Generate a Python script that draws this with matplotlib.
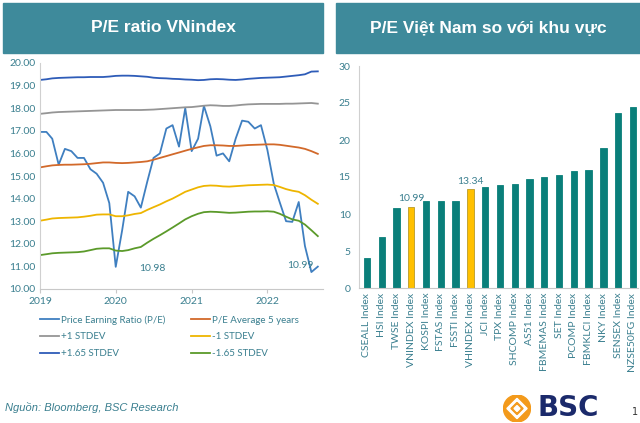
import numpy as np
import pandas as pd
import matplotlib
matplotlib.use("Agg")
import matplotlib.pyplot as plt
from matplotlib.patches import Rectangle, Circle, Polygon

# ---- data: P/E VNindex, monthly Jan 2019 .. Sep 2022 ----
dates = pd.date_range("2019-01-01", periods=45, freq="MS")
pe = [16.95, 16.95, 16.65, 15.5, 16.2, 16.1, 15.8, 15.8, 15.3, 15.1, 14.7, 13.8,
      10.98, 12.6, 14.3, 14.1, 13.6, 14.75, 15.8, 16.0, 17.1, 17.25, 16.3, 18.0,
      16.1, 16.65, 18.1, 17.2, 15.9, 16.0, 15.65, 16.65, 17.45, 17.4, 17.1, 17.25,
      16.15, 14.65, 13.85, 13.0, 12.97, 13.85, 11.9, 10.75, 10.99]
avg5 = [15.38, 15.43, 15.47, 15.49, 15.50, 15.50, 15.51, 15.52, 15.54, 15.57, 15.60, 15.60,
        15.58, 15.57, 15.58, 15.60, 15.62, 15.65, 15.72, 15.80, 15.88, 15.96, 16.04, 16.12,
        16.20, 16.27, 16.33, 16.36, 16.36, 16.35, 16.33, 16.33, 16.35, 16.37, 16.38, 16.39,
        16.40, 16.40, 16.38, 16.34, 16.30, 16.26, 16.20, 16.10, 15.98]
plus1 = [17.75, 17.78, 17.81, 17.83, 17.84, 17.85, 17.86, 17.87, 17.88, 17.89, 17.90, 17.91,
         17.92, 17.92, 17.92, 17.92, 17.92, 17.93, 17.94, 17.96, 17.98, 18.00, 18.02, 18.04,
         18.05, 18.08, 18.11, 18.13, 18.12, 18.10, 18.10, 18.12, 18.15, 18.17, 18.18, 18.19,
         18.19, 18.19, 18.19, 18.20, 18.20, 18.21, 18.22, 18.23, 18.20]
minus1 = [13.02, 13.07, 13.12, 13.14, 13.15, 13.16, 13.17, 13.20, 13.24, 13.29, 13.30, 13.30,
          13.22, 13.22, 13.26, 13.32, 13.36, 13.50, 13.62, 13.74, 13.88, 14.00, 14.15, 14.30,
          14.40, 14.50, 14.56, 14.58, 14.57, 14.54, 14.53, 14.55, 14.57, 14.59, 14.60, 14.61,
          14.62, 14.60, 14.52, 14.42, 14.35, 14.30, 14.15, 13.95, 13.77]
plus165 = [19.25, 19.28, 19.32, 19.34, 19.35, 19.36, 19.37, 19.37, 19.38, 19.38, 19.38, 19.40,
           19.43, 19.44, 19.44, 19.43, 19.41, 19.39, 19.35, 19.33, 19.32, 19.30, 19.29, 19.27,
           19.26, 19.24, 19.25, 19.28, 19.29, 19.28, 19.26, 19.25, 19.27, 19.30, 19.32, 19.34,
           19.35, 19.36, 19.37, 19.40, 19.43, 19.46, 19.50, 19.62, 19.63]
minus165 = [11.50, 11.54, 11.58, 11.60, 11.61, 11.62, 11.63, 11.66, 11.72, 11.78, 11.80, 11.80,
            11.70, 11.68, 11.72, 11.80, 11.86, 12.05, 12.22, 12.38, 12.55, 12.72, 12.90, 13.08,
            13.22, 13.33, 13.40, 13.42, 13.41, 13.39, 13.37, 13.38, 13.40, 13.42, 13.43, 13.43,
            13.44, 13.42, 13.33, 13.20, 13.08, 13.02, 12.85, 12.60, 12.34]

# ---- data: regional P/E ----
indices = ["CSEALL Index", "HSI Index", "TWSE Index", "VNINDEX Index", "KOSPI Index",
           "FSTAS Index", "FSSTI Index", "VHINDEX Index", "JCI Index", "TPX Index",
           "SHCOMP Index", "AS51 Index", "FBMEMAS Index", "SET Index", "PCOMP Index",
           "FBMKLCI Index", "NKY Index", "SENSEX Index", "NZSE50FG Index"]
pe_region = [4.1, 6.9, 10.85, 10.99, 11.7, 11.7, 11.8, 13.34, 13.7, 13.95,
             14.1, 14.7, 15.0, 15.25, 15.75, 15.9, 18.95, 23.7, 24.4]
highlight = ["VNINDEX Index", "VHINDEX Index"]

teal_txt = "#3a7f8f"
banner = "#3e8a9b"
W, H = 640, 423

fig = plt.figure(figsize=(6.4, 4.23), dpi=100)
fig.patch.set_facecolor("white")


def fx(px):
    return px / W


def fy(py):
    return 1 - py / H


# banners
for x0, x1, title in [(3, 323, "P/E ratio VNindex"), (336, 640, "P/E Việt Nam so với khu vực")]:
    fig.patches.append(Rectangle((fx(x0), fy(53)), fx(x1 - x0), (53 - 3) / H,
                                 transform=fig.transFigure, color=banner, zorder=0))
    fig.text(fx((x0 + x1) / 2), fy(28), title, color="white", fontsize=12.5,
             fontweight="bold", family="Liberation Sans", ha="center", va="center")

# ---- left chart ----
ax = fig.add_axes([fx(40), fy(289), fx(283), (289 - 63) / H])
l_pe, = ax.plot(dates, pe, color="#3f7fc0", lw=1.3, label="Price Earning Ratio (P/E)")
l_avg, = ax.plot(dates, avg5, color="#d2692a", lw=1.3, label="P/E Average 5 years")
l_p1, = ax.plot(dates, plus1, color="#959595", lw=1.3, label="+1 STDEV")
l_m1, = ax.plot(dates, minus1, color="#eeb500", lw=1.3, label="-1 STDEV")
l_p165, = ax.plot(dates, plus165, color="#2e5cb8", lw=1.3, label="+1.65 STDEV")
l_m165, = ax.plot(dates, minus165, color="#5b9a2a", lw=1.3, label="-1.65 STDEV")

ax.set_ylim(10, 20)
ax.set_yticks(np.arange(10, 20.5, 1))
ax.set_yticklabels([f"{v:.2f}" for v in np.arange(10, 20.5, 1)])
ax.set_xlim(pd.Timestamp("2019-01-01"), pd.Timestamp("2022-09-26"))
ax.set_xticks([pd.Timestamp(f"{y}-01-01") for y in range(2019, 2023)])
ax.set_xticklabels([str(y) for y in range(2019, 2023)])
for s in ["top", "right"]:
    ax.spines[s].set_visible(False)
ax.spines["left"].set_color("#d0d0d0")
ax.spines["bottom"].set_color("#c8c8c8")
ax.tick_params(axis="both", colors=teal_txt, labelsize=7.5, length=0)
ax.tick_params(axis="x", length=3, color="#c8c8c8", pad=3)
for t in ax.get_xticklabels() + ax.get_yticklabels():
    t.set_family("Lato")

i_min = int(np.argmin(pe[:20]))
ax.annotate(f"{pe[i_min]:.2f}", (dates[i_min], pe[i_min]), xytext=(17, -1),
            textcoords="offset points", ha="left", va="center", color=teal_txt,
            fontsize=7.5, family="Lato")
ax.annotate(f"{pe[-1]:.2f}", (dates[-1], pe[-1]), xytext=(-3, 1),
            textcoords="offset points", ha="right", va="center", color=teal_txt,
            fontsize=7.5, family="Lato")

leg = ax.legend(handles=[l_pe, l_p1, l_p165, l_avg, l_m1, l_m165], ncol=2,
                loc="upper left", bbox_to_anchor=(-0.025, -0.085), frameon=False,
                handlelength=2.0, handletextpad=0.2, borderaxespad=0.3,
                columnspacing=2.6, labelspacing=0.8, prop={"family": "Lato", "size": 7})
for t in leg.get_texts():
    t.set_color(teal_txt)

# ---- right chart ----
ax2 = fig.add_axes([fx(359), fy(288), fx(279), (288 - 66) / H])
xs = np.arange(len(indices))
colors = ["#ffc000" if n in highlight else "#0a7f7a" for n in indices]
edges = ["#b89a2a" if n in highlight else "#0a7f7a" for n in indices]
ax2.bar(xs, pe_region, width=0.43, color=colors, edgecolor=edges, linewidth=0.6)
for i, n in enumerate(indices):
    if n in highlight:
        ax2.text(xs[i], pe_region[i] + 0.5, f"{pe_region[i]:.2f}", ha="center",
                 va="bottom", color=teal_txt, fontsize=7.5, family="Lato")
ax2.set_ylim(0, 30)
ax2.set_yticks(range(0, 31, 5))
ax2.set_xlim(-0.54, 18.34)
ax2.set_xticks(xs)
ax2.set_xticklabels(indices, rotation=90, family="Lato")
for s in ["top", "right"]:
    ax2.spines[s].set_visible(False)
ax2.spines["left"].set_color("#d0d0d0")
ax2.spines["bottom"].set_color("#c8c8c8")
ax2.tick_params(axis="both", colors=teal_txt, labelsize=7.5, length=0)
ax2.tick_params(axis="y", pad=6)
for t in ax2.get_yticklabels():
    t.set_family("Lato")

# footer
fig.text(fx(5), fy(407), "Nguồn: Bloomberg, BSC Research", color=teal_txt, fontsize=8,
         style="italic", family="Liberation Sans", ha="left", va="center")

# BSC logo
lax = fig.add_axes([fx(499), fy(422), fx(36), 27 / H])
lax.set_xlim(-1, 1)
lax.set_ylim(-1, 1)
lax.set_aspect("equal")
lax.axis("off")
lax.add_patch(Circle((0, 0), 1.0, color="#f39a1b"))
lax.add_patch(Polygon([(0, 0.75), (0.75, 0), (0, -0.75), (-0.75, 0)], closed=True,
                      color="white"))
lax.add_patch(Polygon([(0, 0.45), (0.45, 0), (0, -0.45), (-0.45, 0)], closed=True,
                      color="#f39a1b"))
lax.add_patch(Polygon([(0, 0.22), (0.22, 0), (0, -0.22), (-0.22, 0)], closed=True,
                      color="white"))
fig.text(fx(537), fy(416), "BSC", color="#1b2a6b", fontsize=20, fontweight="heavy",
         family="DejaVu Sans", ha="left", va="baseline")
fig.text(fx(632), fy(412), "1", color="#333333", fontsize=7, ha="left", va="center")

fig.savefig("out.png", dpi=100)
